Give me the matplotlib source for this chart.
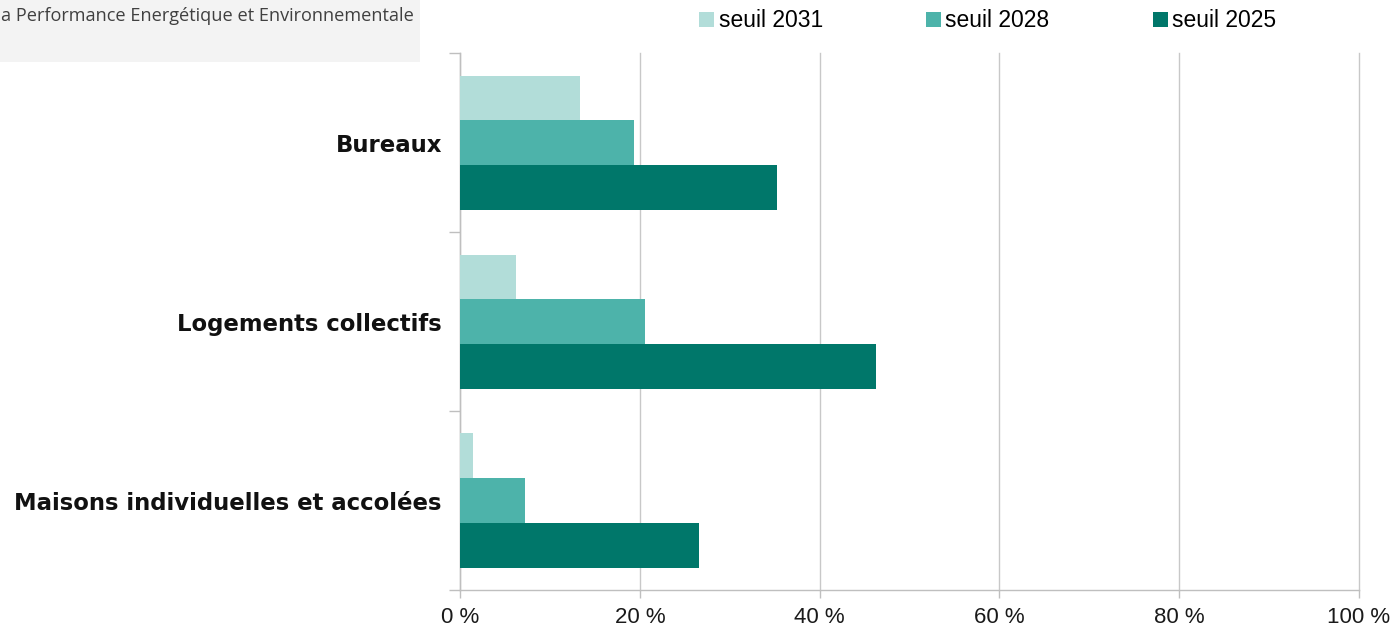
import matplotlib.pyplot as plt
from matplotlib.patches import Rectangle
from matplotlib.ticker import FixedLocator, FuncFormatter

# -------------------------------------------------
# Data (share of buildings above each threshold, %)
# -------------------------------------------------
categories = ["Bureaux", "Logements collectifs", "Maisons individuelles et accolées"]
series_names = ["seuil 2031", "seuil 2028", "seuil 2025"]
seuil_2031 = [13.3, 6.2, 1.4]
seuil_2028 = [19.4, 20.6, 7.2]
seuil_2025 = [35.3, 46.3, 26.6]
x_ticks = [0, 20, 40, 60, 80, 100]

colors = ["#b2ddd9", "#4db3aa", "#00776a"]
bar_h = 0.25

# -------------------------------------------------
# Figure
# -------------------------------------------------
fig = plt.figure(figsize=(13.97, 6.31), dpi=100)
ax = fig.add_axes([0.3293, 0.065, 0.6435, 0.8505])

ypos = list(range(len(categories)))
for k, (vals, name, col) in enumerate(zip([seuil_2031, seuil_2028, seuil_2025],
                                           series_names, colors)):
    offs = (k - 1) * bar_h
    ax.barh([y + offs for y in ypos], vals, height=bar_h, color=col,
            label=name, zorder=3)

ax.set_xlim(0, 100)
ax.set_ylim(len(categories) - 0.5, -0.5)

# x axis
ax.set_xticks(x_ticks)
ax.xaxis.set_major_formatter(FuncFormatter(lambda v, p: f"{v:.0f} %"))
ax.tick_params(axis="x", direction="out", length=6, width=1, color="#bfbfbf",
               labelsize=16, labelcolor="#1a1a1a", pad=6)
for lab in ax.get_xticklabels():
    lab.set_family("Liberation Sans")
ax.grid(axis="x", color="#c8c8c8", lw=1, zorder=0)
for gl in ax.get_xgridlines():
    gl.set_clip_on(False)

# y axis
ax.set_yticks(ypos)
ax.set_yticklabels(categories, fontsize=16.4, fontweight="bold",
                   family="DejaVu Sans", color="#111111")
ax.tick_params(axis="y", which="major", length=0, pad=13)
ax.yaxis.set_minor_locator(FixedLocator([-0.5, 0.5, 1.5, 2.5]))
ax.tick_params(axis="y", which="minor", direction="out", length=8, width=1,
               color="#bfbfbf")

for side in ["top", "right"]:
    ax.spines[side].set_visible(False)
for side in ["left", "bottom"]:
    ax.spines[side].set_color("#bfbfbf")
    ax.spines[side].set_linewidth(1)

# legend
handles, labels = ax.get_legend_handles_labels()
leg = fig.legend(handles, labels, loc="center", bbox_to_anchor=(0.707, 0.967),
                 ncol=3, frameon=False, handlelength=0.65, handleheight=0.65,
                 handletextpad=0.2, columnspacing=4.5,
                 prop={"family": "Liberation Sans", "size": 16.5})

# partially visible title box top-left
fig.patches.append(Rectangle((0, 0.902), 0.301, 0.098, transform=fig.transFigure,
                             facecolor="#f3f3f3", edgecolor="none", zorder=0))
fig.text(0.0005, 0.975, "a Performance Energétique et Environnementale",
         ha="left", va="center", fontsize=13.1, family="Open Sans",
         color="#404040")

fig.savefig("out.png", dpi=100)
